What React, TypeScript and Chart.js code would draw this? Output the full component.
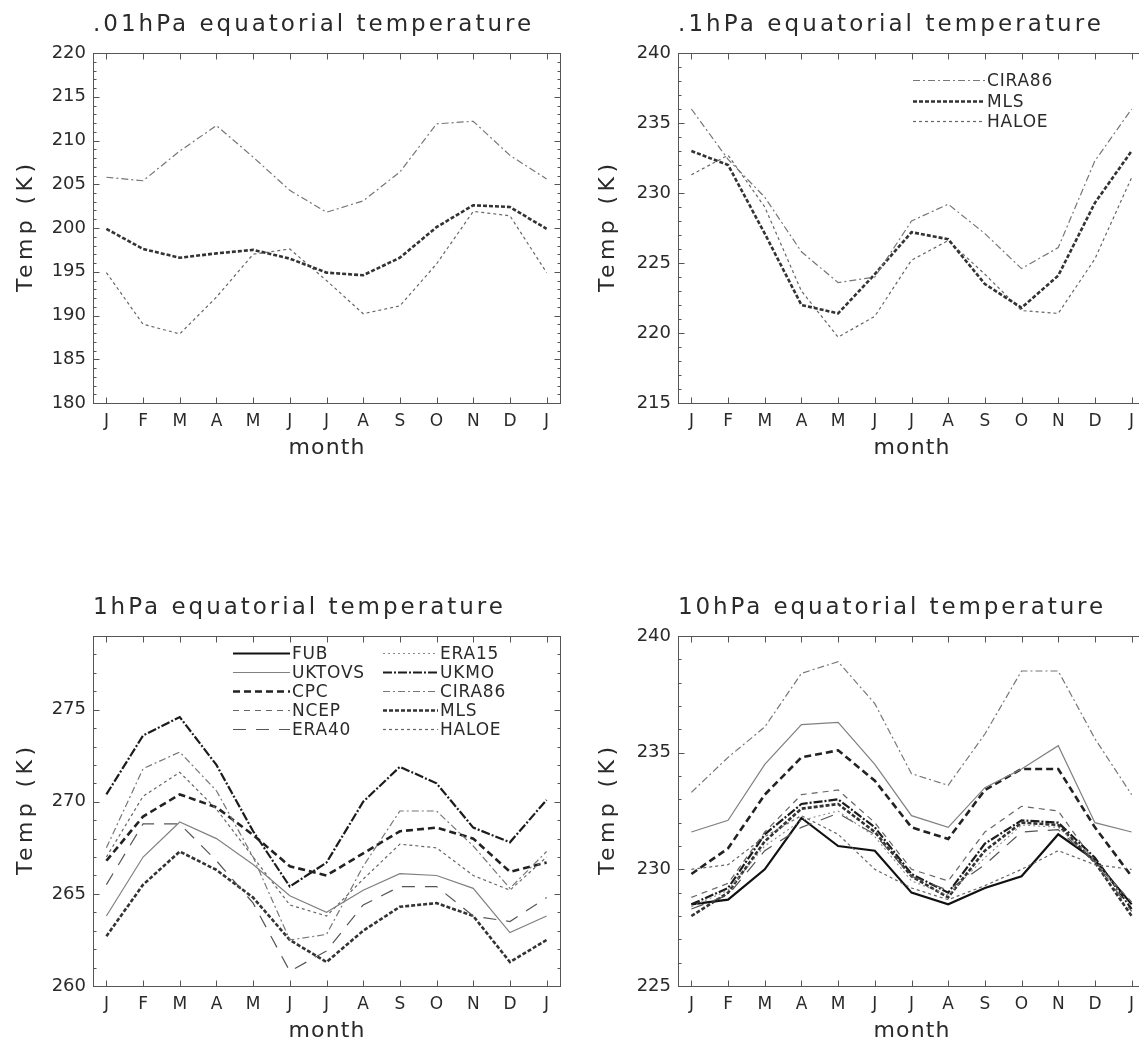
import React, { useEffect, useRef } from "react";
import { Chart, registerables } from "chart.js";

Chart.register(...registerables);

// ---------- data ----------
const MONTH_LABELS = ["J", "F", "M", "A", "M", "J", "J", "A", "S", "O", "N", "D", "J"];

// .01 hPa
const p001_CIRA86 = [205.8, 205.4, 208.8, 211.7, 208.1, 204.3, 201.8, 203.1, 206.4, 211.9, 212.2, 208.3, 205.6];
const p001_MLS = [199.9, 197.6, 196.6, 197.1, 197.5, 196.5, 194.9, 194.6, 196.6, 200.1, 202.6, 202.4, 199.9];
const p001_HALOE = [194.9, 189.0, 187.9, 192.1, 197.0, 197.6, 194.0, 190.2, 191.1, 195.9, 201.9, 201.4, 194.9];

// .1 hPa
const p01_CIRA86 = [236.0, 232.4, 229.7, 225.8, 223.6, 224.0, 228.0, 229.2, 227.1, 224.6, 226.1, 232.3, 236.0];
const p01_MLS = [233.0, 232.0, 227.1, 222.0, 221.4, 224.2, 227.2, 226.7, 223.5, 221.8, 224.1, 229.3, 233.0];
const p01_HALOE = [231.3, 232.7, 229.0, 223.0, 219.7, 221.2, 225.2, 226.6, 224.2, 221.6, 221.4, 225.3, 231.1];

// 1 hPa
const p1_UKMO = [270.4, 273.6, 274.6, 272.0, 268.4, 265.4, 266.7, 270.0, 271.9, 271.0, 268.6, 267.8, 270.1];
const p1_CIRA86 = [267.5, 271.8, 272.7, 270.6, 267.0, 262.5, 262.8, 266.5, 269.5, 269.5, 267.6, 265.3, 267.3];
const p1_HALOE = [267.0, 270.3, 271.6, 269.6, 267.0, 264.4, 263.8, 265.8, 267.7, 267.5, 266.0, 265.2, 267.0];
const p1_CPC = [266.8, 269.2, 270.4, 269.7, 268.2, 266.5, 266.0, 267.2, 268.4, 268.6, 268.0, 266.2, 266.7];
const p1_UKTOVS = [263.8, 267.0, 268.9, 268.0, 266.6, 264.9, 264.0, 265.2, 266.1, 266.0, 265.3, 262.9, 263.8];
const p1_ERA40 = [265.5, 268.8, 268.8, 266.8, 264.5, 260.8, 261.9, 264.4, 265.4, 265.4, 263.8, 263.5, 264.8];
const p1_MLS = [262.7, 265.5, 267.3, 266.3, 264.8, 262.5, 261.3, 263.0, 264.3, 264.5, 263.8, 261.3, 262.5];

// 10 hPa
const p10_CIRA86 = [233.3, 234.8, 236.1, 238.4, 238.9, 237.1, 234.1, 233.6, 235.8, 238.5, 238.5, 235.6, 233.2];
const p10_UKTOVS = [231.6, 232.1, 234.5, 236.2, 236.3, 234.5, 232.3, 231.8, 233.5, 234.3, 235.3, 232.0, 231.6];
const p10_CPC = [229.8, 230.9, 233.2, 234.8, 235.1, 233.8, 231.8, 231.3, 233.4, 234.3, 234.3, 231.8, 229.7];
const p10_NCEP = [228.8, 229.4, 231.6, 233.2, 233.4, 232.0, 230.0, 229.5, 231.6, 232.7, 232.5, 230.3, 228.6];
const p10_UKMO = [228.5, 229.2, 231.5, 232.8, 233.0, 231.8, 229.8, 229.0, 231.1, 232.1, 232.0, 230.5, 228.3];
const p10_ERA40 = [228.3, 228.9, 230.8, 231.8, 232.4, 231.5, 229.7, 229.1, 230.2, 231.6, 231.7, 230.3, 228.2];
const p10_ERA15 = [228.4, 229.1, 231.0, 232.1, 232.5, 231.4, 229.5, 228.9, 230.5, 231.9, 231.8, 230.4, 228.4];
const p10_FUB = [228.5, 228.7, 230.0, 232.2, 231.0, 230.8, 229.0, 228.5, 229.2, 229.7, 231.5, 230.4, 228.5];
const p10_HALOE = [230.0, 230.2, 231.4, 232.3, 231.5, 230.0, 229.2, 228.7, 229.3, 230.0, 230.8, 230.2, 230.0];
const p10_MLS = [228.0, 229.0, 231.2, 232.6, 232.8, 231.6, 229.7, 228.8, 230.8, 232.0, 231.9, 230.3, 228.0];

// legends
const LEGEND_TOP = [["CIRA86", "MLS", "HALOE"]];
const LEGEND_BOTTOM = [
  ["FUB", "UKTOVS", "CPC", "NCEP", "ERA40"],
  ["ERA15", "UKMO", "CIRA86", "MLS", "HALOE"],
];

// ---------- styles ----------
type Style = { color: string; width: number; dash: number[] };
const STYLES: Record<string, Style> = {
  FUB: { color: "#111", width: 2.2, dash: [] },
  UKTOVS: { color: "#808080", width: 1.2, dash: [] },
  CPC: { color: "#222", width: 2.6, dash: [7, 4] },
  NCEP: { color: "#666", width: 1.2, dash: [6, 5] },
  ERA40: { color: "#555", width: 1.2, dash: [13, 10] },
  ERA15: { color: "#8a8a8a", width: 1.1, dash: [2, 3] },
  UKMO: { color: "#1c1c1c", width: 2.2, dash: [9, 2, 2, 2] },
  CIRA86: { color: "#777", width: 1.2, dash: [7, 3, 2, 3] },
  MLS: { color: "#333", width: 2.6, dash: [4, 2] },
  HALOE: { color: "#666", width: 1.2, dash: [3, 3] },
};

const FONT = '"DejaVu Sans", sans-serif';
const TEXT = "#2a2a2a";

type Series = { name: string; values: number[] };
type Panel = {
  title: string;
  titleWidth: number;
  yMin: number;
  yMax: number;
  yStep: number;
  series: Series[];
  legend: string[][] | null;
  legendLineX: number[];
  legendLineLen: number[];
  legendY0: number;
  legendDy: number;
  x0: number;
  y0: number;
  w: number;
  h: number;
  boxLeft: number;
  tempOffset: number;
};

const PANELS: Panel[] = [
  {
    title: ".01hPa equatorial temperature",
    titleWidth: 438,
    yMin: 180, yMax: 220, yStep: 5,
    series: [
      { name: "CIRA86", values: p001_CIRA86 },
      { name: "MLS", values: p001_MLS },
      { name: "HALOE", values: p001_HALOE },
    ],
    legend: null, legendLineX: [], legendLineLen: [], legendY0: 0, legendDy: 0,
    x0: 0, y0: 0, w: 570, h: 520, boxLeft: 93, tempOffset: 67,
  },
  {
    title: ".1hPa equatorial temperature",
    titleWidth: 423,
    yMin: 215, yMax: 240, yStep: 5,
    series: [
      { name: "CIRA86", values: p01_CIRA86 },
      { name: "MLS", values: p01_MLS },
      { name: "HALOE", values: p01_HALOE },
    ],
    legend: LEGEND_TOP, legendLineX: [343], legendLineLen: [72], legendY0: 80, legendDy: 20.5,
    x0: 570, y0: 0, w: 580, h: 520, boxLeft: 108, tempOffset: 70,
  },
  {
    title: "1hPa equatorial temperature",
    titleWidth: 410,
    yMin: 260, yMax: 279, yStep: 5,
    series: [
      { name: "UKTOVS", values: p1_UKTOVS },
      { name: "ERA40", values: p1_ERA40 },
      { name: "CIRA86", values: p1_CIRA86 },
      { name: "HALOE", values: p1_HALOE },
      { name: "CPC", values: p1_CPC },
      { name: "MLS", values: p1_MLS },
      { name: "UKMO", values: p1_UKMO },
    ],
    legend: LEGEND_BOTTOM, legendLineX: [233, 383], legendLineLen: [57, 55], legendY0: 70, legendDy: 18.9,
    x0: 0, y0: 583, w: 570, h: 461, boxLeft: 93, tempOffset: 67,
  },
  {
    title: "10hPa equatorial temperature",
    titleWidth: 425,
    yMin: 225, yMax: 240, yStep: 5,
    series: [
      { name: "CIRA86", values: p10_CIRA86 },
      { name: "UKTOVS", values: p10_UKTOVS },
      { name: "HALOE", values: p10_HALOE },
      { name: "ERA15", values: p10_ERA15 },
      { name: "ERA40", values: p10_ERA40 },
      { name: "NCEP", values: p10_NCEP },
      { name: "CPC", values: p10_CPC },
      { name: "MLS", values: p10_MLS },
      { name: "UKMO", values: p10_UKMO },
      { name: "FUB", values: p10_FUB },
    ],
    legend: null, legendLineX: [], legendLineLen: [], legendY0: 0, legendDy: 0,
    x0: 570, y0: 583, w: 580, h: 461, boxLeft: 108, tempOffset: 70,
  },
];

const BOX_TOP = 53;
const BOX_WIDTH = 467;
const BOX_HEIGHT = 350;

function drawSpaced(
  ctx: CanvasRenderingContext2D,
  text: string,
  x: number,
  y: number,
  target: number,
  font: string,
  align: "left" | "center"
) {
  ctx.font = font;
  (ctx as any).letterSpacing = "0px";
  const w = ctx.measureText(text).width;
  const ls = Math.max(0, (target - w) / Math.max(1, text.length - 1));
  (ctx as any).letterSpacing = ls.toFixed(2) + "px";
  ctx.textAlign = "left";
  ctx.textBaseline = "middle";
  const sx = align === "center" ? x - target / 2 : x;
  ctx.fillText(text, sx, y);
  (ctx as any).letterSpacing = "0px";
}

function makeDecor(p: Panel) {
  return {
    id: "decor",
    afterDatasetsDraw(chart: any) {
      const { ctx, chartArea: a, scales } = chart;
      const xs = scales.x;
      const ys = scales.y;
      ctx.save();
      ctx.setLineDash([]);
      ctx.strokeStyle = "#555";
      ctx.lineWidth = 1;
      const L = Math.round(a.left) + 0.5;
      const T = Math.round(a.top) + 0.5;
      const R = Math.round(a.right) + 0.5;
      const B = Math.round(a.bottom) + 0.5;
      ctx.strokeRect(L, T, R - L, B - T);
      ctx.beginPath();
      for (let i = 0; i < MONTH_LABELS.length; i++) {
        const px = Math.round(xs.getPixelForValue(i)) + 0.5;
        ctx.moveTo(px, B);
        ctx.lineTo(px, B - 6);
        ctx.moveTo(px, T);
        ctx.lineTo(px, T + 6);
      }
      for (let v = Math.ceil(p.yMin); v <= p.yMax; v++) {
        const py = Math.round(ys.getPixelForValue(v)) + 0.5;
        const len = v % p.yStep === 0 ? 6 : 3;
        ctx.moveTo(L, py);
        ctx.lineTo(L + len, py);
        ctx.moveTo(R, py);
        ctx.lineTo(R - len, py);
      }
      ctx.stroke();

      ctx.fillStyle = TEXT;
      // title
      drawSpaced(ctx, p.title, a.left, 25, p.titleWidth, `23px ${FONT}`, "left");
      // x title
      drawSpaced(ctx, "month", (a.left + a.right) / 2, 448, 76, `22px ${FONT}`, "center");
      // y title
      ctx.save();
      ctx.translate(a.left - p.tempOffset, (a.top + a.bottom) / 2);
      ctx.rotate(-Math.PI / 2);
      drawSpaced(ctx, "Temp (K)", 0, 0, 128, `22px ${FONT}`, "center");
      ctx.restore();

      // legend
      if (p.legend) {
        p.legend.forEach((col, ci) => {
          col.forEach((name, ri) => {
            const st = STYLES[name];
            const y = Math.round(p.legendY0 + ri * p.legendDy) + 0.5;
            const lx = p.legendLineX[ci];
            const len = p.legendLineLen[ci];
            ctx.save();
            ctx.strokeStyle = st.color;
            ctx.lineWidth = st.width;
            ctx.setLineDash(st.dash);
            ctx.beginPath();
            ctx.moveTo(lx, y);
            ctx.lineTo(lx + len, y);
            ctx.stroke();
            ctx.restore();
            ctx.fillStyle = TEXT;
            ctx.font = `17px ${FONT}`;
            (ctx as any).letterSpacing = "0.8px";
            ctx.textAlign = "left";
            ctx.textBaseline = "middle";
            ctx.fillText(name, lx + len + 2, y + 1);
            (ctx as any).letterSpacing = "0px";
          });
        });
      }
      ctx.restore();
    },
  };
}

function PanelChart({ p }: { p: Panel }) {
  const ref = useRef<HTMLCanvasElement | null>(null);
  useEffect(() => {
    const canvas = ref.current;
    if (!canvas) return;
    const boxRight = p.boxLeft + BOX_WIDTH;
    const boxBottom = BOX_TOP + BOX_HEIGHT;
    const majors: number[] = [];
    for (let v = p.yMin; v <= p.yMax; v += p.yStep) majors.push(v);
    const chart = new Chart(canvas, {
      type: "line",
      data: {
        datasets: p.series.map((s) => {
          const st = STYLES[s.name];
          return {
            label: s.name,
            data: s.values.map((v, i) => ({ x: i, y: v })),
            borderColor: st.color,
            backgroundColor: st.color,
            borderWidth: st.width,
            borderDash: st.dash,
            pointRadius: 0,
            fill: false,
            tension: 0,
          };
        }),
      },
      options: {
        animation: false,
        responsive: false,
        maintainAspectRatio: false,
        devicePixelRatio: 1,
        events: [],
        layout: {
          padding: { left: 0, top: BOX_TOP, right: p.w - boxRight, bottom: 0 },
        },
        plugins: {
          legend: { display: false },
          tooltip: { enabled: false },
          title: { display: false },
        },
        scales: {
          x: {
            type: "linear",
            min: -0.365,
            max: 12.365,
            afterBuildTicks: (axis: any) => {
              axis.ticks = MONTH_LABELS.map((_, i) => ({ value: i }));
            },
            afterFit: (axis: any) => {
              axis.height = p.h - boxBottom;
            },
            grid: { display: false, drawTicks: false },
            border: { display: false },
            ticks: {
              autoSkip: false,
              maxRotation: 0,
              minRotation: 0,
              padding: 8,
              color: TEXT,
              font: { family: FONT, size: 17 },
              callback: (v: any) => MONTH_LABELS[Math.round(Number(v))] ?? "",
            },
          },
          y: {
            type: "linear",
            min: p.yMin,
            max: p.yMax,
            afterBuildTicks: (axis: any) => {
              axis.ticks = majors.map((v) => ({ value: v }));
            },
            afterFit: (axis: any) => {
              axis.width = p.boxLeft;
            },
            grid: { display: false, drawTicks: false },
            border: { display: false },
            ticks: {
              padding: 7,
              color: TEXT,
              font: { family: FONT, size: 18 },
              callback: (v: any) => String(v),
            },
          },
        },
      } as any,
      plugins: [makeDecor(p)],
    });
    return () => chart.destroy();
  }, [p]);
  return (
    <canvas
      ref={ref}
      width={p.w}
      height={p.h}
      style={{ position: "absolute", left: p.x0, top: p.y0, width: p.w, height: p.h }}
    />
  );
}

export default function App() {
  return (
    <div
      style={{
        position: "absolute",
        left: 0,
        top: 0,
        width: 1139,
        height: 1044,
        overflow: "hidden",
        background: "#fff",
      }}
    >
      {PANELS.map((p, i) => (
        <PanelChart key={i} p={p} />
      ))}
    </div>
  );
}
